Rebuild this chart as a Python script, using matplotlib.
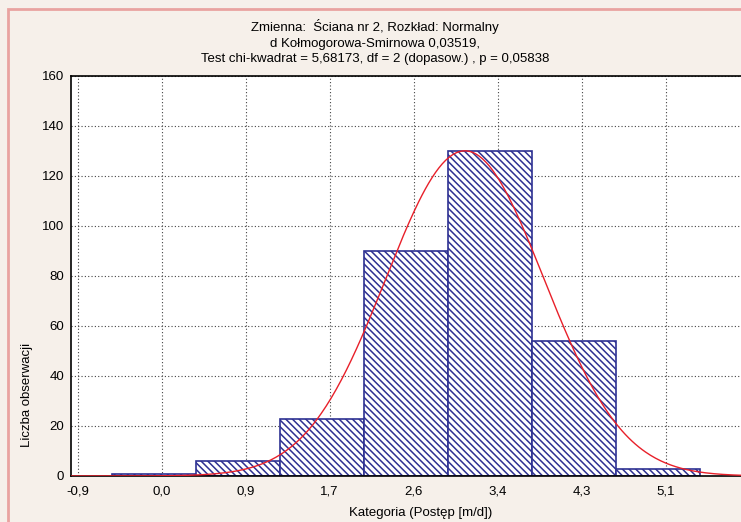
import numpy as np
import matplotlib
matplotlib.use("Agg")
import matplotlib.pyplot as plt
from matplotlib.patches import Rectangle

plt.rcParams['font.family'] = ['Liberation Sans', 'DejaVu Sans']
plt.rcParams['hatch.linewidth'] = 1.1
plt.rcParams['hatch.color'] = '#6266b8'

# histogram data
bin_edges = [-0.548, 0.309, 1.166, 2.023, 2.880, 3.737, 4.594, 5.451]
counts = [1, 6, 23, 90, 130, 54, 3]
tick_pos = [-0.9, -0.043, 0.814, 1.671, 2.529, 3.386, 4.243, 5.1]
tick_labels = ['-0,9', '0,0', '0,9', '1,7', '2,6', '3,4', '4,3', '5,1']
y_ticks = [0, 20, 40, 60, 80, 100, 120, 140, 160]

# fitted normal
fit_mean = 3.05
fit_sd = 0.807

title = ("Zmienna:  Ściana nr 2, Rozkład: Normalny\n"
         "d Kołmogorowa-Smirnowa 0,03519,\n"
         "Test chi-kwadrat = 5,68173, df = 2 (dopasow.) , p = 0,05838")

fig = plt.figure(figsize=(7.41, 5.22), dpi=100, facecolor='#f6f0ea')
# pink frame
fig.patches.append(Rectangle((8/741, -0.1), 1.2, (522-9)/522 + 0.1, transform=fig.transFigure,
                             fill=False, edgecolor='#e9a3a0', linewidth=2, clip_on=False))

ax = fig.add_axes([71/741, 46/522, 670/741, 400/522])
ax.set_facecolor('white')

edges = np.array(bin_edges)
widths = np.diff(edges)
ax.bar(edges[:-1], counts, width=widths, align='edge', facecolor='white',
       edgecolor='#2e3192', linewidth=1.2, hatch='\\\\\\\\\\', zorder=2)

xs = np.linspace(-0.97, 5.87, 400)
n_total = sum(counts)
curve = n_total * widths.mean() / (fit_sd * np.sqrt(2*np.pi)) * np.exp(-0.5*((xs-fit_mean)/fit_sd)**2)
ax.plot(xs, curve, color='#e8202a', linewidth=1.0, zorder=3)

ax.set_xlim(-0.968, 5.867)
ax.set_ylim(0, 160)
ax.set_xticks(tick_pos)
ax.set_xticklabels(tick_labels)
ax.set_yticks(y_ticks)
ax.tick_params(length=0, labelsize=9.5, colors='black')
ax.tick_params(axis='x', pad=7)
ax.tick_params(axis='y', pad=5)
ax.grid(True, color='#444444', linestyle=(0, (1, 2)), linewidth=0.8, zorder=0)
ax.set_axisbelow(True)
for s in ['left', 'top', 'bottom']:
    ax.spines[s].set_color('black')
    ax.spines[s].set_linewidth(1.2)
ax.spines['right'].set_visible(False)

ax.set_xlabel('Kategoria (Postęp [m/d])', fontsize=9.5)
ax.xaxis.set_label_coords(0.522, -0.078)
ax.set_ylabel('Liczba obserwacji', fontsize=9.5)
ax.yaxis.set_label_coords(-0.057, 0.2025)

fig.text(375/741, (522 - 42) / 522, title, ha='center', va='center',
         fontsize=9.5, linespacing=1.4)

fig.savefig('out.png', dpi=100, facecolor=fig.get_facecolor())
